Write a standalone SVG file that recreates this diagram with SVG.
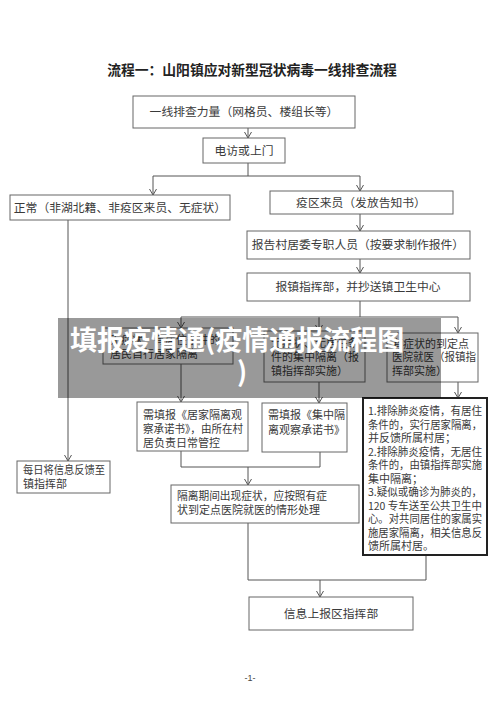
<svg xmlns="http://www.w3.org/2000/svg" width="500" height="718" viewBox="0 0 500 718">
<defs>
<style>
.box{fill:#fff;stroke:#666;stroke-width:1}
.bold{fill:#fff;stroke:#222;stroke-width:2}
.t{font-family:"Noto Sans CJK SC","Noto Sans",sans-serif;fill:#3a3a3a;font-size:11px}
.t12{font-family:"Noto Sans CJK SC","Noto Sans",sans-serif;fill:#3a3a3a;font-size:11.8px}
.c{stroke:#555;stroke-width:1;fill:none}
</style>
<marker id="ar" markerWidth="8" markerHeight="8" refX="6" refY="4" orient="auto" markerUnits="userSpaceOnUse">
<path d="M0,0.5 L6,4 L0,7.5" fill="none" stroke="#555" stroke-width="1"/>
</marker>
</defs>
<rect width="500" height="718" fill="#fff"/>
<text x="252" y="75" text-anchor="middle" font-family="Noto Sans CJK SC,sans-serif" font-weight="700" font-size="13.8" fill="#222">流程一：山阳镇应对新型冠状病毒一线排查流程</text>

<g id="connectors" class="c">
<line x1="248" y1="128" x2="248" y2="138" marker-end="url(#ar)"/>
<polyline points="248,163 248,176"/>
<line x1="153" y1="176" x2="360" y2="176"/>
<line x1="153" y1="176" x2="153" y2="195" marker-end="url(#ar)"/>
<line x1="360" y1="176" x2="360" y2="191" marker-end="url(#ar)"/>
<line x1="360" y1="214" x2="360" y2="231" marker-end="url(#ar)"/>
<line x1="360" y1="259" x2="360" y2="273" marker-end="url(#ar)"/>
<line x1="360" y1="301" x2="360" y2="317"/>
<line x1="181" y1="317" x2="458" y2="317"/>
<line x1="181" y1="317" x2="181" y2="328" marker-end="url(#ar)"/>
<line x1="319" y1="317" x2="319" y2="331" marker-end="url(#ar)"/>
<line x1="458" y1="317" x2="458" y2="333" marker-end="url(#ar)"/>
<line x1="68" y1="220" x2="68" y2="461" marker-end="url(#ar)"/>
<line x1="181" y1="364" x2="181" y2="402" marker-end="url(#ar)"/>
<line x1="319" y1="382" x2="319" y2="403" marker-end="url(#ar)"/>
<line x1="458" y1="382" x2="458" y2="398" marker-end="url(#ar)"/>
<polyline points="181,451 181,467 320,467 320,452"/>
<line x1="248" y1="467" x2="248" y2="485" marker-end="url(#ar)"/>
<polyline points="248,523 248,580 426,580 426,555"/>
<line x1="320" y1="580" x2="320" y2="597" marker-end="url(#ar)"/>
</g>

<g id="n1"><rect class="box" x="133" y="96" width="222" height="32"/><text class="t12" x="244" y="116" text-anchor="middle">一线排查力量（网格员、楼组长等）</text></g>
<g id="n2"><rect class="box" x="203" y="138" width="82" height="25"/><text class="t12" x="244" y="155" text-anchor="middle">电访或上门</text></g>
<g id="n3"><rect class="box" x="10" y="195" width="220" height="25"/><text class="t12" x="120" y="212" text-anchor="middle">正常（非湖北籍、非疫区来员、无症状）</text></g>
<g id="n4"><rect class="box" x="270" y="191" width="183" height="23"/><text class="t12" x="361" y="207" text-anchor="middle">疫区来员（发放告知书）</text></g>
<g id="n5"><rect class="box" x="247" y="231" width="223" height="28"/><text class="t12" x="358" y="249" text-anchor="middle">报告村居委专职人员（按要求制作报件）</text></g>
<g id="n6"><rect class="box" x="247" y="273" width="223" height="28"/><text class="t12" x="358" y="291" text-anchor="middle">报镇指挥部，并抄送镇卫生中心</text></g>
<g id="n7"><rect class="box" x="103" y="328" width="130" height="36"/><text class="t" x="110" y="344">无症状、有居住条件的</text><text class="t" x="110" y="358">居民自行居家隔离</text></g>
<g id="n8"><rect class="box" x="264" y="331" width="101" height="51"/><text class="t" x="271" y="347">无症状、无居住条</text><text class="t" x="271" y="361">件的集中隔离（报</text><text class="t" x="271" y="375">镇指挥部实施）</text></g>
<g id="n9"><rect class="box" x="387" y="333" width="91" height="49"/><text class="t" x="392" y="348">有症状的到定点</text><text class="t" x="392" y="361" textLength="84" lengthAdjust="spacingAndGlyphs">医院就医（报镇指</text><text class="t" x="392" y="375">挥部实施）</text></g>
<g id="n10"><rect class="box" x="137" y="402" width="111" height="49"/><text class="t" x="143" y="419">需填报《居家隔离观</text><text class="t" x="143" y="433" textLength="100" lengthAdjust="spacingAndGlyphs">察承诺书》，由所在村</text><text class="t" x="143" y="447">居负责日常管控</text></g>
<g id="n11"><rect class="box" x="262" y="403" width="85" height="49"/><text class="t" x="268" y="419">需填报《集中隔</text><text class="t" x="268" y="434">离观察承诺书》</text></g>
<g id="n12"><rect class="bold" x="363" y="398" width="124" height="157"/>
<text class="t" x="368" y="415" textLength="114" lengthAdjust="spacingAndGlyphs">1.排除肺炎疫情，有居住</text>
<text class="t" x="368" y="428.5" textLength="114" lengthAdjust="spacingAndGlyphs">条件的，实行居家隔离，</text>
<text class="t" x="368" y="442">并反馈所属村居；</text>
<text class="t" x="368" y="455.5" textLength="114" lengthAdjust="spacingAndGlyphs">2.排除肺炎疫情，无居住</text>
<text class="t" x="368" y="469" textLength="114" lengthAdjust="spacingAndGlyphs">条件的，由镇指挥部实施</text>
<text class="t" x="368" y="482.5">集中隔离；</text>
<text class="t" x="368" y="496" textLength="114" lengthAdjust="spacingAndGlyphs">3.疑似或确诊为肺炎的，</text>
<text class="t" x="368" y="509.5" textLength="114" lengthAdjust="spacingAndGlyphs">120 专车送至公共卫生中</text>
<text class="t" x="368" y="523" textLength="114" lengthAdjust="spacingAndGlyphs">心。对共同居住的家属实</text>
<text class="t" x="368" y="536.5" textLength="114" lengthAdjust="spacingAndGlyphs">施居家隔离，相关信息反</text>
<text class="t" x="368" y="550">馈所属村居。</text>
</g>
<g id="n13"><rect class="box" x="17" y="461" width="93" height="32"/><text class="t" x="23" y="474" textLength="82" lengthAdjust="spacingAndGlyphs">每日将信息反馈至</text><text class="t" x="23" y="488">镇指挥部</text></g>
<g id="n14"><rect class="box" x="171" y="485" width="188" height="38"/><text class="t" x="177" y="500" textLength="150" lengthAdjust="spacingAndGlyphs">隔离期间出现症状，应按照有症</text><text class="t" x="177" y="514">状到定点医院就医的情形处理</text></g>
<g id="n15"><rect class="box" x="249" y="597" width="164" height="33"/><text class="t12" x="331" y="618" text-anchor="middle">信息上报区指挥部</text></g>

<text x="250" y="681" text-anchor="middle" font-family="Liberation Sans,sans-serif" font-size="9" fill="#444">-1-</text>

<g id="overlay">
<rect x="58" y="318" width="383" height="80" fill="#000" fill-opacity="0.4"/>
<text x="70" y="350" font-family="Noto Sans CJK SC,sans-serif" font-weight="700" font-size="27" fill="#fff">填报疫情通(疫情通报流程图</text>
<text x="242" y="382" text-anchor="middle" font-family="Noto Sans CJK SC,sans-serif" font-weight="700" font-size="27" fill="#fff">)</text>
</g>
</svg>
